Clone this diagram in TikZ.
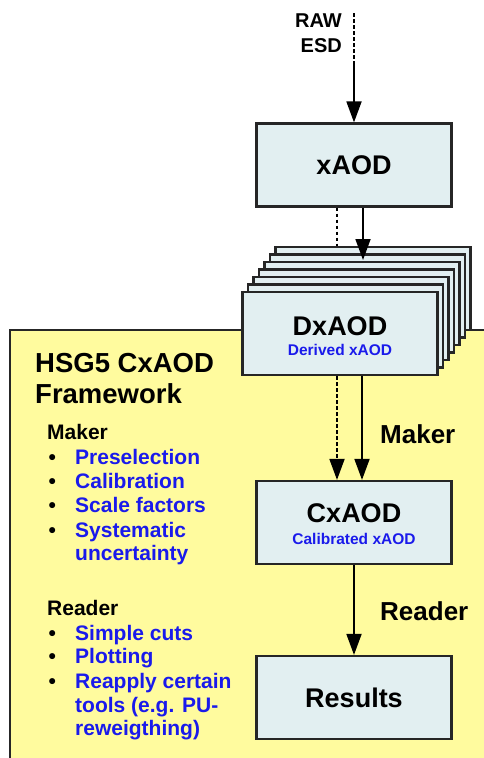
\documentclass[tikz,border=0pt]{standalone}
\usepackage{fontspec}
\setmainfont{Liberation Sans}
\usetikzlibrary{arrows.meta,calc}
\definecolor{frameY}{HTML}{FFFB9E}
\definecolor{boxB}{HTML}{E2EFF1}
\definecolor{textB}{HTML}{1A1AEB}
\colorlet{edgeK}{black!85}

\tikzset{
  databox/.style={draw=edgeK, line width=2.2pt, fill=boxB, minimum width=195pt,
    minimum height=83pt, inner sep=0pt, font=\fontsize{27}{30}\selectfont\bfseries},
  boxname/.style={anchor=base, inner sep=0pt, font=\fontsize{27}{30}\selectfont\bfseries},
  boxsub/.style={anchor=base, inner sep=0pt, textB, font=\fontsize{15.5}{18}\selectfont\bfseries},
  flow/.style={line width=1.8pt, -{Triangle[length=21pt,width=15pt]}},
  dotline/.style={line width=1.8pt, dash pattern=on 3.5pt off 2.5pt},
  dotflow/.style={flow, dash pattern=on 3.5pt off 2.5pt},
  sidelabel/.style={anchor=base west, inner sep=0pt, font=\fontsize{26}{30}\selectfont\bfseries},
  rawtext/.style={anchor=base east, inner sep=0pt, font=\fontsize{20}{24}\selectfont\bfseries},
  titletext/.style={anchor=base west, inner sep=0pt, font=\fontsize{27.5}{31}\selectfont\bfseries},
  listhead/.style={anchor=base west, inner sep=0pt, font=\fontsize{21}{24}\selectfont\bfseries},
  listitem/.style={listhead, textB},
}

\begin{document}
\begin{tikzpicture}[x=1pt, y=-1pt]
  \useasboundingbox (0,0) rectangle (484,758);

  % Framework panel (runs off the right and bottom edges)
  \fill[frameY] (10,330) rectangle (484,758);
  \draw[edgeK, line width=2pt] (10,758) -- (10,330) -- (484,330);

  % Input: RAW / ESD
  \node[rawtext] (raw) at (342,27) {RAW};
  \node[rawtext] (esd) at (342,52) {ESD};
  \coordinate (in0) at (354,13);
  \coordinate (in1) at (354,63);

  % xAOD
  \node[databox] (xaod) at (354,165) {xAOD};

  % Stack of derived xAODs, drawn back to front
  \foreach \k in {6,...,1} {
    \node[databox] (dx\k) at ({340+5.5*\k},{333.5-7.5*\k}) {};
  }
  \node[databox] (dxaod) at (340,333.5) {};
  \node[boxname] (dxname) at (340,335) {DxAOD};
  \node[boxsub] (dxsub) at (340,355) {Derived xAOD};

  % CxAOD and results
  \node[databox] (cxaod) at (354,522.5) {};
  \node[boxname] (cxname) at (354,522) {CxAOD};
  \node[boxsub] (cxsub) at (354,544) {Calibrated xAOD};
  \node[databox] (results) at (354,697.5) {Results};

  % Input -> xAOD
  \draw[dotline] (in0) -- (in1);
  \draw[flow] (in1) -- (xaod.north);

  % xAOD -> DxAOD (tip lands inside the stack)
  \coordinate (dxin) at (363,260);
  \draw[dotline] ([xshift=-17pt]xaod.south) -- ([xshift=-17pt]xaod.south |- dx6.north);
  \draw[flow] ([xshift=9pt]xaod.south) -- (dxin);

  % DxAOD -> CxAOD
  \draw[dotflow] ([xshift=-17pt]cxaod.north |- dxaod.south) -- ([xshift=-17pt]cxaod.north);
  \draw[flow] ([xshift=8pt]cxaod.north |- dxaod.south) -- ([xshift=8pt]cxaod.north);
  \node[sidelabel] (makerlbl) at (380,443) {Maker};

  % CxAOD -> Results
  \draw[flow] (cxaod.south) -- (results.north);
  \node[sidelabel] (readerlbl) at (380,620) {Reader};

  % Panel text
  \node[titletext] (title1) at (35,372) {HSG5 CxAOD};
  \node[titletext] (title2) at (35,403) {Framework};

  \node[listhead] (makerhd) at (47,439) {Maker};
  \foreach \t/\y [count=\i] in {Preselection/464, Calibration/488, Scale factors/512, Systematic/537} {
    \node[listhead] (mb\i) at (48.5,\y) {\textbullet};
    \node[listitem] (mi\i) at (75,\y) {\t};
  }
  \node[listitem] (mi5) at (75,560) {uncertainty};

  \node[listhead] (readerhd) at (47,615) {Reader};
  \foreach \t/\y [count=\i] in {Simple cuts/640, Plotting/663, Reapply certain/688} {
    \node[listhead] (rb\i) at (48.5,\y) {\textbullet};
    \node[listitem] (ri\i) at (75,\y) {\t};
  }
  \node[listitem] (ri4) at (75,712) {tools (e.g. PU-};
  \node[listitem] (ri5) at (75,735) {reweigthing)};
\end{tikzpicture}
\end{document}
